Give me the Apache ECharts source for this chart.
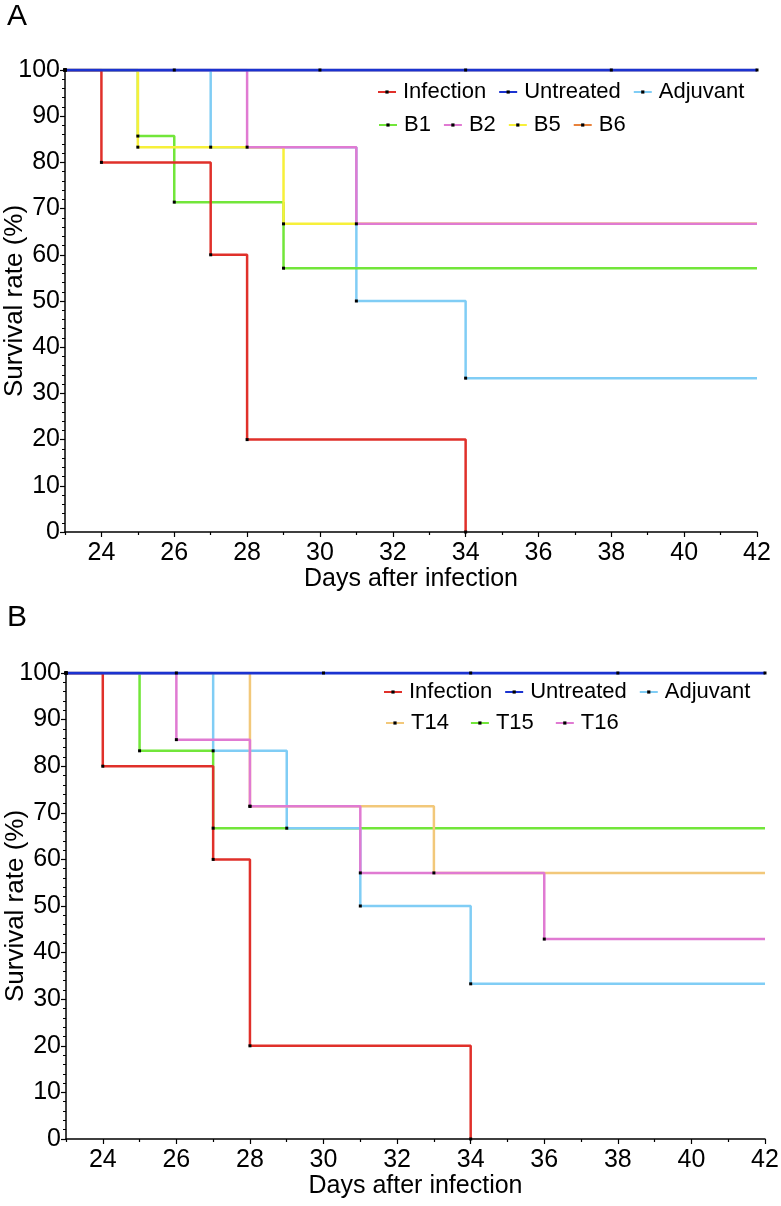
<!DOCTYPE html>
<html>
<head>
<meta charset="utf-8">
<script src="https://cdn.jsdelivr.net/npm/echarts@6/dist/echarts.min.js"></script>
<style>
  html, body { margin: 0; padding: 0; background: #fff; }
  #chart { width: 781px; height: 1206px; }
</style>
</head>
<body>
<div id="chart"></div>
<script>
// x axis
const dayMin = 23;
const dayMax = 42;
const majorDays = [24, 26, 28, 30, 32, 34, 36, 38, 40, 42];
const minorDays = [23, 25, 27, 29, 31, 33, 35, 37, 39, 41];

// panel A : days of each step and survival after it
const infA_t = [23, 24, 27, 28, 34];
const infA_s = [100, 80, 60, 20, 0];
const untA_t = [23, 26, 30, 34, 38, 42];
const untA_s = [100, 100, 100, 100, 100, 100];
const adjA_t = [23, 27, 31, 34];
const adjA_s = [100, 83.3, 50, 33.3];
const b1_t = [23, 25, 26, 29];
const b1_s = [100, 85.7, 71.4, 57.1];
const b2_t = [23, 28, 31];
const b2_s = [100, 83.3, 66.7];
const b5_t = [23, 25, 29];
const b5_s = [100, 83.3, 66.7];
const b6_t = [23];
const b6_s = [100];

// panel B
const infB_t = [23, 24, 27, 28, 34];
const infB_s = [100, 80, 60, 20, 0];
const untB_t = [23, 26, 30, 34, 38, 42];
const untB_s = [100, 100, 100, 100, 100, 100];
const adjB_t = [23, 27, 29, 31, 34];
const adjB_s = [100, 83.3, 66.7, 50, 33.3];
const t14_t = [23, 28, 33];
const t14_s = [100, 71.4, 57.1];
const t15_t = [23, 25, 27];
const t15_s = [100, 83.3, 66.7];
const t16_t = [23, 26, 28, 31, 36];
const t16_s = [100, 85.7, 71.4, 57.1, 42.9];

const legendA1 = ["Infection", "Untreated", "Adjuvant"];
const legendA2 = ["B1", "B2", "B5", "B6"];
const legendB1 = ["Infection", "Untreated", "Adjuvant"];
const legendB2 = ["T14", "T15", "T16"];

const colors = {
  Infection: "#e0302a",
  Untreated: "#1b33d0",
  Adjuvant: "#80cdf5",
  B1: "#72e63a",
  B2: "#e07ad2",
  B5: "#f7f03a",
  B6: "#e8823c",
  T14: "#f2c87a",
  T15: "#72e63a",
  T16: "#e07ad2",
};

const font = "Liberation Sans, Arial, sans-serif";

// steps plus a tail to the end of follow-up (no mark on the tail)
function stepData(t, s) {
  let data = t.map((d, i) => ({ value: [d, s[i]] }));
  let last = t.length - 1;
  if (s[last] > 0 && t[last] < dayMax) {
    data.push({ value: [dayMax, s[last]], symbolSize: 0 });
  }
  return data;
}

function kmSeries(name, t, s, idx) {
  return {
    name: name,
    type: "line",
    step: "end",
    xAxisIndex: idx * 2,
    yAxisIndex: idx,
    data: stepData(t, s),
    symbol: "rect",
    symbolSize: 3,
    showAllSymbol: true,
    itemStyle: { color: "#000" },
    lineStyle: { color: colors[name], width: name == "Untreated" ? 3 : 2.5 },
    emphasis: { disabled: true },
  };
}

function xAxes(gridIndex) {
  return [
    {
      type: "value",
      gridIndex: gridIndex,
      min: dayMin,
      max: dayMax,
      position: "bottom",
      name: "Days after infection",
      nameLocation: "middle",
      nameGap: 30,
      nameTextStyle: { fontSize: 25, color: "#000", fontFamily: font },
      axisLine: { show: true, onZero: false, lineStyle: { color: "#000", width: 1.5 } },
      axisTick: { show: true, length: 5, customValues: majorDays, lineStyle: { color: "#000", width: 1.2 } },
      axisLabel: { customValues: majorDays, fontSize: 25, color: "#000", fontFamily: font, margin: 9 },
      splitLine: { show: false },
    },
    {
      type: "value",
      gridIndex: gridIndex,
      min: dayMin,
      max: dayMax,
      position: "bottom",
      axisLine: { show: false },
      axisTick: { show: true, length: 3, customValues: minorDays, lineStyle: { color: "#000", width: 1.2 } },
      axisLabel: { show: false },
      splitLine: { show: false },
    },
  ];
}

function yAxis(gridIndex) {
  return {
    type: "value",
    gridIndex: gridIndex,
    min: 0,
    max: 100,
    interval: 10,
    name: "Survival rate (%)",
    nameLocation: "middle",
    nameGap: 37,
    nameMoveOverlap: false,
    nameTextStyle: { fontSize: 26, color: "#000", fontFamily: font },
    axisLine: { show: true, lineStyle: { color: "#000", width: 1.5 } },
    axisTick: { show: true, length: 5, lineStyle: { color: "#000", width: 1.2 } },
    minorTick: { show: true, splitNumber: 5, length: 3, lineStyle: { color: "#000", width: 1 } },
    axisLabel: { fontSize: 25, color: "#000", fontFamily: font, margin: 5 },
    splitLine: { show: false },
  };
}

function legend(names, left, top, gap) {
  return {
    data: names,
    left: left,
    top: top,
    padding: 0,
    itemGap: gap,
    itemWidth: 18,
    itemHeight: 4,
    selectedMode: false,
    textStyle: { fontSize: 22, color: "#000", fontFamily: font, padding: [0, 0, 0, 2] },
  };
}

const chart = echarts.init(document.getElementById("chart"));
chart.setOption({
  animation: false,
  title: [
    { text: "A", left: 7, top: 2, padding: 0, textStyle: { fontSize: 30, fontWeight: "normal", color: "#000", fontFamily: font } },
    { text: "B", left: 7, top: 603, padding: 0, textStyle: { fontSize: 30, fontWeight: "normal", color: "#000", fontFamily: font } },
  ],
  legend: [
    legend(legendA1, 377, 81, 12),
    legend(legendA2, 378, 114, 12),
    legend(legendB1, 383, 681, 12),
    legend(legendB2, 385, 712, 21),
  ],
  grid: [
    { left: 65, right: 24, top: 70, bottom: 674, containLabel: false, outerBoundsMode: "none" },
    { left: 66, right: 16, top: 673, bottom: 67, containLabel: false, outerBoundsMode: "none" },
  ],
  xAxis: [...xAxes(0), ...xAxes(1)],
  yAxis: [yAxis(0), yAxis(1)],
  series: [
    // panel A, bottom to top
    kmSeries("B6", b6_t, b6_s, 0),
    kmSeries("Adjuvant", adjA_t, adjA_s, 0),
    kmSeries("B1", b1_t, b1_s, 0),
    kmSeries("B5", b5_t, b5_s, 0),
    kmSeries("B2", b2_t, b2_s, 0),
    kmSeries("Infection", infA_t, infA_s, 0),
    kmSeries("Untreated", untA_t, untA_s, 0),
    // panel B
    kmSeries("T15", t15_t, t15_s, 1),
    kmSeries("Adjuvant", adjB_t, adjB_s, 1),
    kmSeries("T14", t14_t, t14_s, 1),
    kmSeries("T16", t16_t, t16_s, 1),
    kmSeries("Infection", infB_t, infB_s, 1),
    kmSeries("Untreated", untB_t, untB_s, 1),
  ],
});
</script>
</body>
</html>
